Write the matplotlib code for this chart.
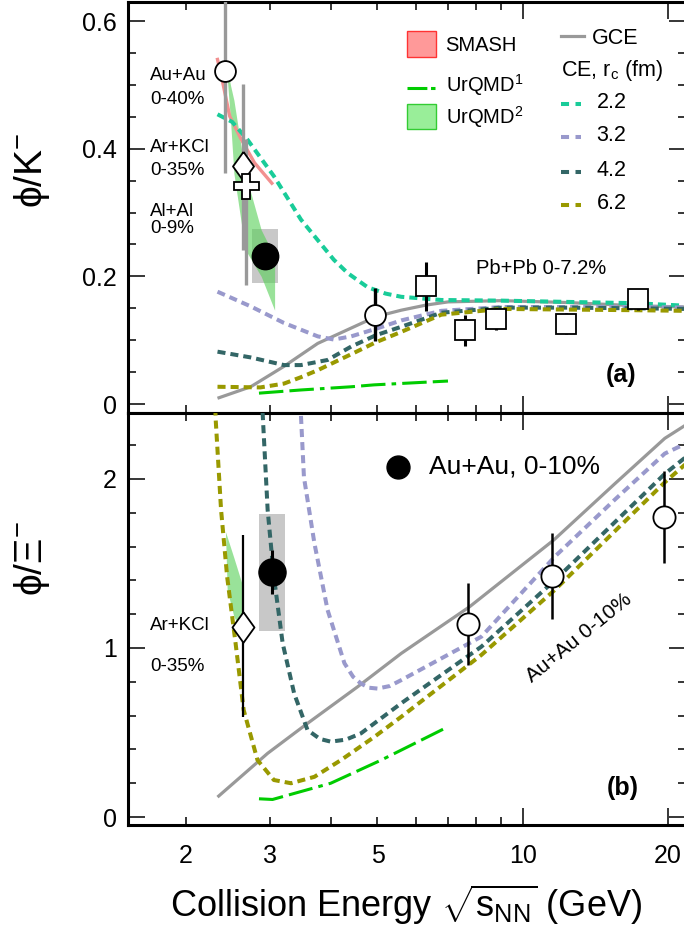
import matplotlib
matplotlib.use("Agg")
import matplotlib.pyplot as plt
import numpy as np
from matplotlib.patches import Rectangle
from matplotlib.ticker import FixedLocator, FuncFormatter, MultipleLocator

plt.rcParams["font.family"] = ["Liberation Sans", "DejaVu Sans"]
plt.rcParams["mathtext.fontset"] = "custom"
plt.rcParams["mathtext.rm"] = "Liberation Sans"
plt.rcParams["mathtext.it"] = "Liberation Sans:italic"

# ---------------- phi/K- (panel a) ----------------
hades_e = [2.42, 2.63, 2.67]
hades_y = [0.522, 0.373, 0.342]
hades_lo = [0.160, 0.131, 0.155]
hades_hi = [0.160, 0.129, 0.073]

star_a_e = [2.92]
star_a_y = [0.232]
star_a_sys = [0.042]

e917_e = [4.94]
e917_y = [0.140]
e917_err = [0.042]

na49_e = [6.3, 7.6, 8.8, 12.3, 17.3]
na49_y = [0.185, 0.116, 0.133, 0.126, 0.164]
na49_lo = [0.039, 0.025, 0.017, 0.017, 0.017]
na49_hi = [0.037, 0.024, 0.017, 0.017, 0.017]

smash_e = [2.33, 2.39, 2.47, 2.60, 2.78, 3.02]
smash_y = [0.540, 0.503, 0.451, 0.417, 0.378, 0.346]

urqmd2_a_e = [2.43, 2.48, 2.52, 2.66, 2.87, 3.06]
urqmd2_a_lo = [0.530, 0.443, 0.361, 0.242, 0.200, 0.147]
urqmd2_a_hi = [0.535, 0.499, 0.476, 0.362, 0.273, 0.231]

urqmd1_a_e = [2.84, 3.47, 4.41, 4.92, 7.0]
urqmd1_a = [0.017, 0.022, 0.027, 0.030, 0.036]

gce_a_e = [2.33, 2.73, 3.20, 3.76, 4.41, 4.97, 5.60, 6.3, 7.0, 9.04, 12.4, 17.1, 21.8]
gce_a = [0.009, 0.027, 0.059, 0.095, 0.119, 0.137, 0.147, 0.155, 0.160, 0.162, 0.159, 0.154, 0.152]

ce22_a_e = [2.33, 2.50, 2.69, 3.05, 3.47, 4.06, 4.34, 4.77, 5.20, 5.60, 6.78, 9.04, 12.4, 17.1, 21.8]
ce22_a = [0.454, 0.442, 0.414, 0.357, 0.289, 0.226, 0.205, 0.183, 0.173, 0.168, 0.163, 0.162, 0.160, 0.158, 0.154]
ce32_a_e = [2.33, 2.73, 3.20, 3.76, 4.06, 4.41, 4.97, 5.60, 6.78, 9.04, 12.4, 17.1, 21.8]
ce32_a = [0.176, 0.153, 0.127, 0.106, 0.101, 0.106, 0.118, 0.131, 0.146, 0.152, 0.152, 0.152, 0.151]
ce42_a_e = [2.33, 2.73, 3.20, 3.47, 3.94, 4.41, 4.97, 5.60, 6.78, 9.04, 12.4, 17.1, 21.8]
ce42_a = [0.082, 0.073, 0.061, 0.061, 0.069, 0.090, 0.108, 0.121, 0.143, 0.151, 0.151, 0.150, 0.149]
ce62_a_e = [2.33, 2.86, 3.20, 3.47, 3.76, 4.41, 4.97, 5.60, 6.78, 9.04, 12.4, 17.1, 21.8]
ce62_a = [0.027, 0.026, 0.032, 0.042, 0.053, 0.078, 0.097, 0.113, 0.140, 0.149, 0.148, 0.147, 0.146]

# ---------------- phi/Xi- (panel b) ----------------
hades_b_e = [2.63]
hades_b_y = [1.126]
hades_b_lo = [0.532]
hades_b_hi = [0.543]

star_b_e = [3.02]
star_b_y = [1.448]
star_b_stat = [0.13]
star_b_sys = [0.345]

bes_e = [7.7, 11.5, 19.6]
bes_y = [1.140, 1.428, 1.777]
bes_lo = [0.241, 0.258, 0.272]
bes_hi = [0.243, 0.254, 0.270]

urqmd2_b_e = [2.42, 2.44, 2.52, 2.63]
urqmd2_b_lo = [1.688, 1.343, 1.185, 1.085]
urqmd2_b_hi = [1.688, 1.657, 1.533, 1.363]

urqmd1_b_e = [2.84, 3.03, 4.00, 5.09, 7.0]
urqmd1_b = [0.108, 0.104, 0.200, 0.337, 0.534]

gce_b_e = [2.33, 2.96, 3.58, 4.55, 5.60, 7.76, 11.6, 15.5, 19.7, 21.8]
gce_b = [0.118, 0.377, 0.554, 0.771, 0.968, 1.244, 1.639, 1.97, 2.24, 2.32]

ce32_b_e = [3.46, 3.52, 3.70, 3.94, 4.27, 4.45, 4.62, 4.80, 5.00, 5.30, 5.60, 8.21, 11.65, 15.5, 19.7, 21.8]
ce32_b = [2.45, 2.01, 1.62, 1.225, 0.91, 0.83, 0.79, 0.765, 0.76, 0.775, 0.81, 1.067, 1.54, 1.876, 2.15, 2.21]
ce42_b_e = [2.87, 2.89, 2.96, 3.05, 3.18, 3.36, 3.58, 3.80, 4.00, 4.30, 4.62, 5.60, 8.21, 11.65, 19.7, 21.8]
ce42_b = [2.55, 2.39, 1.817, 1.42, 1.028, 0.73, 0.515, 0.462, 0.446, 0.458, 0.495, 0.673, 1.008, 1.40, 2.03, 2.13]
ce62_b_e = [2.30, 2.31, 2.37, 2.44, 2.54, 2.64, 2.82, 3.05, 3.31, 3.70, 4.20, 4.93, 5.60, 8.21, 11.65, 19.7, 21.8]
ce62_b = [2.50, 2.35, 1.817, 1.42, 1.028, 0.633, 0.337, 0.219, 0.200, 0.238, 0.337, 0.475, 0.593, 0.959, 1.343, 1.98, 2.09]

rc_labels = ["2.2", "3.2", "4.2", "6.2"]

# colours
C_GCE = "#999999"
C_CE = ["#19cc99", "#9999cc", "#336666", "#999900"]
C_URQMD1 = "#00cc00"
C_SMASH = "#f29090"
C_BAND = "#55d055"
C_SYS = "#c8c8c8"

DASH_CE = (0, (2.0, 1.25))
DASH_URQMD = (0, (8, 2, 8, 2, 1.5, 2))
DIAMOND = [(0, 1), (0.72, 0), (0, -1), (-0.72, 0), (0, 1)]
SYS_HALF = 0.027  # half width of systematic boxes in decades


def style_axes(ax, ylim, ymajor, yminor, xlabels):
    ax.set_xscale("log")
    ax.set_xlim(1.52, 21.8)
    ax.set_ylim(*ylim)
    ax.xaxis.set_major_locator(FixedLocator([10, 20]))
    ax.xaxis.set_minor_locator(FixedLocator([2, 3, 4, 5, 6, 7, 8, 9]))
    ax.xaxis.set_major_formatter(FuncFormatter(lambda v, p: f"{v:g}"))
    ax.xaxis.set_minor_formatter(FuncFormatter(lambda v, p: f"{v:g}" if v in (2, 3, 5) else ""))
    ax.yaxis.set_major_locator(FixedLocator(ymajor))
    ax.yaxis.set_minor_locator(MultipleLocator(yminor))
    ax.yaxis.set_major_formatter(FuncFormatter(lambda v, p: f"{v:g}"))
    ax.tick_params(which="both", direction="in", top=True, right=True, width=1.1,
                   labelsize=18, labelbottom=xlabels, pad=8)
    ax.tick_params(axis="x", which="both", pad=14)
    ax.tick_params(which="major", length=12)
    ax.tick_params(which="minor", length=6)
    for sp in ax.spines.values():
        sp.set_linewidth(2.2)


def sys_box(ax, e, y, half):
    lo = e / 10 ** SYS_HALF
    hi = e * 10 ** SYS_HALF
    ax.add_patch(Rectangle((lo, y - half), hi - lo, 2 * half, facecolor=C_SYS,
                           edgecolor="none", zorder=1.5))


def model_curves(ax, gce, ce_list, urqmd1):
    ax.plot(*gce, color=C_GCE, lw=2.3, zorder=3, solid_capstyle="butt")
    for (e, y), c in zip(ce_list, C_CE):
        ax.plot(e, y, color=c, lw=2.9, ls=DASH_CE, zorder=3, dash_capstyle="butt")
    ax.plot(*urqmd1, color=C_URQMD1, lw=2.2, ls=DASH_URQMD, zorder=3)


fig = plt.figure(figsize=(6.84, 9.32), dpi=100)
ax_a = fig.add_axes([128 / 684, 1 - 413 / 932, 558 / 684, 411 / 932])
ax_b = fig.add_axes([128 / 684, 1 - 825 / 932, 558 / 684, 412 / 932])

# ---------------- panel (a) ----------------
ax = ax_a
for e, y, h in zip(star_a_e, star_a_y, star_a_sys):
    sys_box(ax, e, y, h)
ax.fill_between(urqmd2_a_e, urqmd2_a_lo, urqmd2_a_hi, color=C_BAND, alpha=0.6,
                lw=0, zorder=2)
ax.plot(smash_e, smash_y, color=C_SMASH, lw=2.4, zorder=2.2)
model_curves(ax, (gce_a_e, gce_a),
             [(ce22_a_e, ce22_a), (ce32_a_e, ce32_a), (ce42_a_e, ce42_a), (ce62_a_e, ce62_a)],
             (urqmd1_a_e, urqmd1_a))

ax.errorbar(hades_e, hades_y, yerr=[hades_lo, hades_hi], fmt="none", ecolor="#999999",
            elinewidth=2.4, capsize=0, zorder=4)
ax.errorbar(e917_e, e917_y, yerr=e917_err, fmt="none", ecolor="black", elinewidth=2.4,
            capsize=0, zorder=4)
ax.errorbar(na49_e, na49_y, yerr=[na49_lo, na49_hi], fmt="none", ecolor="black",
            elinewidth=2.2, capsize=0, zorder=4)
mk = dict(ls="none", markeredgecolor="black", markerfacecolor="white", markeredgewidth=1.3, zorder=5)
ax.plot(hades_e[0], hades_y[0], marker="o", ms=15, **mk)
ax.plot(hades_e[1], hades_y[1], marker=DIAMOND, ms=21, **mk)
ax.plot(hades_e[2], hades_y[2], marker="P", ms=18, **mk)
ax.plot(e917_e, e917_y, marker="o", ms=15, **mk)
ax.plot(na49_e, na49_y, marker="s", ms=14, **mk)
ax.plot(star_a_e, star_a_y, "o", color="black", ms=19, zorder=5)

style_axes(ax, (-0.0141, 0.63), [0, 0.2, 0.4, 0.6], 0.05, False)

txt = dict(transform=ax.transAxes, fontsize=13.5, va="center", ha="left")
ax.text(0.0395, 0.822, "Au+Au", **txt)
ax.text(0.0395, 0.762, "0-40%", **txt)
ax.text(0.0395, 0.646, "Ar+KCl", **txt)
ax.text(0.0395, 0.589, "0-35%", **txt)
ax.text(0.0395, 0.491, "Al+Al", **txt)
ax.text(0.0395, 0.448, "0-9%", **txt)
ax.text(0.623, 0.352, "Pb+Pb 0-7.2%", transform=ax.transAxes, fontsize=14.5, va="center")
ax.text(0.8845, 0.0925, "(a)", transform=ax.transAxes, fontsize=18, fontweight="bold",
        ha="center", va="center")

# model legend, left column
ax.add_patch(Rectangle((0.5004, 0.867), 0.0508, 0.062, transform=ax.transAxes,
                       facecolor="#ff9999", edgecolor="#ff3333", lw=1.0, zorder=6))
ax.plot([0.500, 0.551], [0.790, 0.790], transform=ax.transAxes, color=C_URQMD1, lw=2.2,
        ls=(0, (6.5, 1.2, 1.8, 1.2)), zorder=6)
ax.add_patch(Rectangle((0.5004, 0.691), 0.0508, 0.062, transform=ax.transAxes,
                       facecolor="#99ee99", edgecolor="#33cc33", lw=1.0, zorder=6))
leg = dict(transform=ax.transAxes, fontsize=14.5, va="center", ha="left")
ax.text(0.569, 0.893, "SMASH", **leg)
ax.text(0.569, 0.797, r"UrQMD$^{1}$", **leg)
ax.text(0.569, 0.719, r"UrQMD$^{2}$", **leg)

# model legend, right column
ax.plot([0.7756, 0.8175], [0.918, 0.918], transform=ax.transAxes, color=C_GCE, lw=2.3, zorder=6)
ax.text(0.8307, 0.912, "GCE", transform=ax.transAxes, fontsize=15.5, va="center")
ax.text(0.7756, 0.8345, r"CE, r$_{\mathrm{c}}$ (fm)", transform=ax.transAxes, fontsize=15.5,
        va="center")
for fy, c, lab in zip([0.752, 0.6715, 0.587, 0.506], C_CE, rc_labels):
    ax.plot([0.7756, 0.8115], [fy, fy], transform=ax.transAxes, color=c, lw=2.9,
            ls=(0, (2.0, 1.6)), zorder=6)
    ax.text(0.840, fy + 0.003, lab, transform=ax.transAxes, fontsize=15.5, va="center")

# ---------------- panel (b) ----------------
ax = ax_b
for e, y, h in zip(star_b_e, star_b_y, star_b_sys):
    sys_box(ax, e, y, h)
ax.fill_between(urqmd2_b_e, urqmd2_b_lo, urqmd2_b_hi, color=C_BAND, alpha=0.6,
                lw=0, zorder=2)
model_curves(ax, (gce_b_e, gce_b),
             [([], []), (ce32_b_e, ce32_b), (ce42_b_e, ce42_b), (ce62_b_e, ce62_b)],
             (urqmd1_b_e, urqmd1_b))

ax.errorbar(hades_b_e, hades_b_y, yerr=[hades_b_lo, hades_b_hi], fmt="none", ecolor="black",
            elinewidth=1.6, capsize=0, zorder=4)
ax.errorbar(star_b_e, star_b_y, yerr=star_b_stat, fmt="none", ecolor="black",
            elinewidth=2.2, capsize=0, zorder=4)
ax.errorbar(bes_e, bes_y, yerr=[bes_lo, bes_hi], fmt="none", ecolor="black",
            elinewidth=1.8, capsize=0, zorder=4)
ax.plot(hades_b_e, hades_b_y, marker=DIAMOND, ms=22, **mk)
ax.plot(bes_e, bes_y, marker="o", ms=16, **mk)
ax.plot(star_b_e, star_b_y, "o", color="black", ms=19.5, zorder=5)

style_axes(ax, (-0.047, 2.39), [0, 1, 2], 0.2, True)

ax.plot([0.4835], [0.868], "o", color="black", ms=16.5, transform=ax.transAxes, zorder=6)
ax.text(0.539, 0.8697, "Au+Au, 0-10%", transform=ax.transAxes, fontsize=19, va="center")
ax.text(0.0395, 0.4854, "Ar+KCl", transform=ax.transAxes, fontsize=13.5, va="center")
ax.text(0.0395, 0.384, "0-35%", transform=ax.transAxes, fontsize=13.5, va="center")
ax.text(0.808, 0.455, "Au+Au 0-10%", transform=ax.transAxes, fontsize=15, rotation=39,
        rotation_mode="anchor", ha="center", va="center")
ax.text(0.886, 0.0898, "(b)", transform=ax.transAxes, fontsize=18, fontweight="bold",
        ha="center", va="center")

# axis titles
fig.text(0.047, 0.8176, "ϕ/K$^{-}$", rotation=90, fontsize=28, ha="center", va="center")
fig.text(0.047, 0.401, "ϕ/Ξ$^{-}$", rotation=90, fontsize=28, ha="center", va="center")
fig.text(406 / 684, 1 - 905 / 932, r"Collision Energy $\sqrt{\mathrm{s}_{\mathrm{NN}}}$ (GeV)",
         fontsize=26, ha="center", va="center")

fig.savefig("out.png", dpi=100)
